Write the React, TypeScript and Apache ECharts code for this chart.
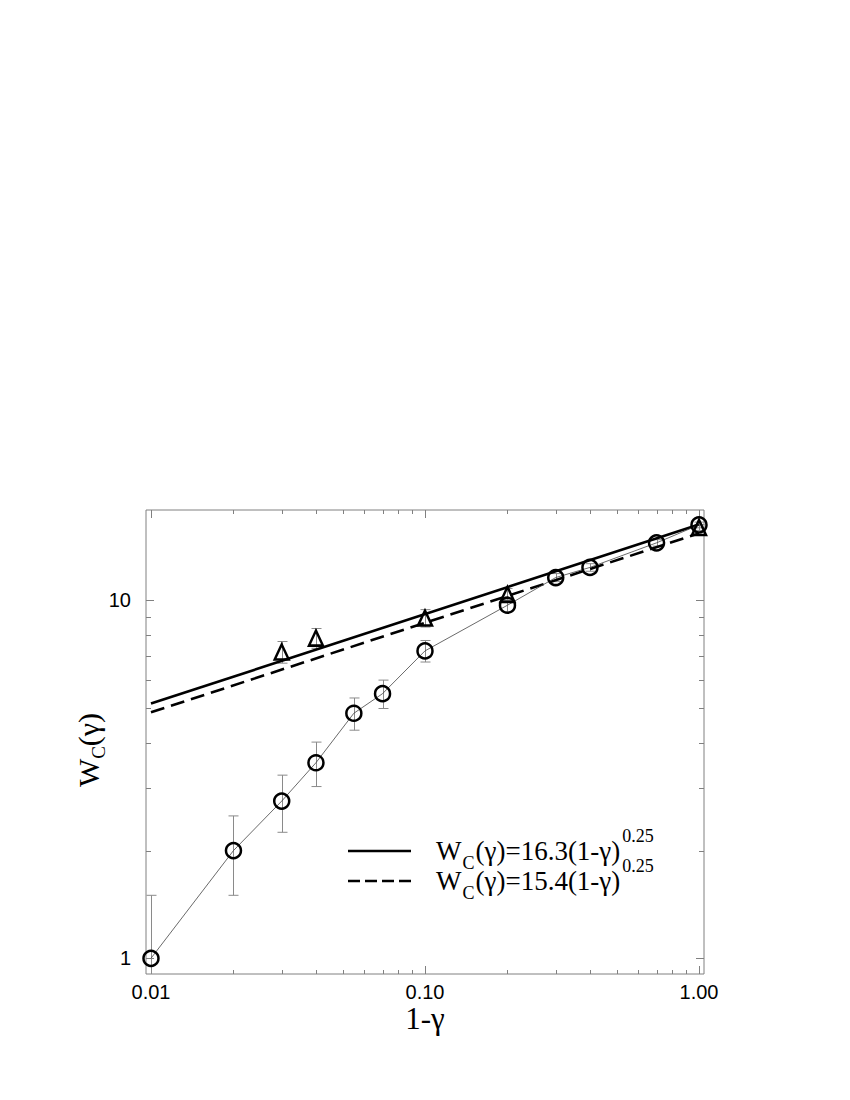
import React, { useEffect, useRef } from "react";
import * as echarts from "echarts";

// Circles (connected by thin line)
const circleX = [0.01, 0.02, 0.03, 0.04, 0.055, 0.07, 0.1, 0.2, 0.3, 0.4, 0.7, 1.0];
const circleY = [1.0, 2.0, 2.75, 3.52, 4.84, 5.49, 7.23, 9.7, 11.59, 12.37, 14.49, 16.26];
const circleErr = [0.5, 0.5, 0.5, 0.5, 0.5, 0.5, 0.5, 0.4, 0.3, 0.3, 0.3, 0.3];

// Triangles
const triX = [0.03, 0.04, 0.1, 0.2, 1.0];
const triY = [7.18, 7.85, 8.93, 10.4, 16.0];
const triErr = [0.5, 0.5, 0.5, 0.4, 0.3];

// Fit lines (endpoints at 1-γ = 0.01 and 1.00)
const fitX = [0.01, 1.0];
const fitSolid = [5.15, 16.3];
const fitDashed = [4.87, 15.4];

// Ticks
const xMajorTicks = [0.01, 0.1, 1.0];
const xMinorTicks = [0.02, 0.03, 0.04, 0.05, 0.06, 0.07, 0.08, 0.09, 0.2, 0.3, 0.4, 0.5, 0.6, 0.7, 0.8, 0.9];
const yMajorTicks = [1, 10];
const yMinorTicks = [2, 3, 4, 5, 6, 7, 8, 9];

// Legend
const legendMain = ["(γ)=16.3(1-γ)", "(γ)=15.4(1-γ)"];
const legendExp = "0.25";

const AX = "#808080";
const SERIF = "serif";
const SANS = "sans-serif";
const LEG_MAIN = 27;
const LEG_SMALL = 18;

function tickSeries(values: number[], dir: "x" | "y", len: number) {
  return {
    type: "custom",
    silent: true,
    z: 1,
    data: values.map((v) => (dir === "x" ? [v, 1] : [0.1, v])),
    renderItem: (params: any, api: any) => {
      const cs = params.coordSys;
      const p = api.coord([api.value(0), api.value(1)]);
      const st = { stroke: AX, lineWidth: 1 };
      if (dir === "x") {
        const x = Math.round(p[0]) + 0.5;
        const yb = cs.y + cs.height;
        return {
          type: "group",
          children: [
            { type: "line", shape: { x1: x, y1: yb, x2: x, y2: yb - len }, style: st },
            { type: "line", shape: { x1: x, y1: cs.y, x2: x, y2: cs.y + len }, style: st },
          ],
        };
      }
      const y = Math.round(p[1]) + 0.5;
      const xr = cs.x + cs.width;
      return {
        type: "group",
        children: [
          { type: "line", shape: { x1: cs.x, y1: y, x2: cs.x + len, y2: y }, style: st },
          { type: "line", shape: { x1: xr, y1: y, x2: xr - len, y2: y }, style: st },
        ],
      };
    },
  };
}

function errorSeries(xs: number[], ys: number[], es: number[]) {
  return {
    type: "custom",
    silent: true,
    z: 2,
    data: xs.map((x, i) => [x, ys[i], es[i]]),
    renderItem: (params: any, api: any) => {
      const cs = params.coordSys;
      const x = api.value(0);
      const y = api.value(1);
      const e = api.value(2);
      if (!e) return null;
      const t = api.coord([x, y + e]);
      const b = api.coord([x, y - e]);
      const px = Math.round(t[0]) + 0.5;
      const bottom = cs.y + cs.height;
      const yt = Math.max(t[1], cs.y);
      const yb = Math.min(b[1], bottom);
      const hw = 5;
      const st = { stroke: "#8a8a8a", lineWidth: 1 };
      const children: any[] = [
        { type: "line", shape: { x1: px, y1: yt, x2: px, y2: yb }, style: st },
      ];
      if (t[1] >= cs.y)
        children.push({ type: "line", shape: { x1: px - hw, y1: t[1], x2: px + hw, y2: t[1] }, style: st });
      if (b[1] <= bottom)
        children.push({ type: "line", shape: { x1: px - hw, y1: b[1], x2: px + hw, y2: b[1] }, style: st });
      return { type: "group", children };
    },
  };
}

function measure(text: string, size: number) {
  const c = document.createElement("canvas").getContext("2d");
  if (!c) return text.length * size * 0.5;
  c.font = `${size}px ${SERIF}`;
  return c.measureText(text).width;
}

function txt(x: number, y: number, text: string, size: number) {
  return {
    type: "text",
    x,
    y,
    style: {
      text,
      fontSize: size,
      fontFamily: SERIF,
      fill: "#000",
      lineHeight: size,
      verticalAlign: "middle",
      align: "left",
    },
  };
}

export default function App() {
  const ref = useRef<HTMLDivElement>(null);
  useEffect(() => {
    if (!ref.current) return;
    const chart = echarts.init(ref.current, undefined, { renderer: "svg" });
    const isPow = (v: number) => {
      const l = Math.log10(v);
      return Math.abs(l - Math.round(l)) < 1e-6;
    };
    const legX = 436;
    const legY = [851, 881];
    const legend: any[] = [
      {
        type: "line",
        shape: { x1: 348, y1: legY[0], x2: 411, y2: legY[0] },
        style: { stroke: "#000", lineWidth: 2.6 },
      },
      {
        type: "line",
        shape: { x1: 348, y1: legY[1], x2: 411, y2: legY[1] },
        style: { stroke: "#000", lineWidth: 2.6, lineDash: [12, 5] },
      },
    ];
    legendMain.forEach((t, i) => {
      const wW = measure("W", LEG_MAIN);
      const wC = measure("C", LEG_SMALL);
      const wT = measure(t, LEG_MAIN);
      legend.push(txt(legX, legY[i], "W", LEG_MAIN));
      legend.push(txt(legX + wW + 1, legY[i] + 12, "C", LEG_SMALL));
      legend.push(txt(legX + wW + wC + 2, legY[i], t, LEG_MAIN));
      legend.push(txt(legX + wW + wC + wT + 4, legY[i] - 15, legendExp, LEG_SMALL));
    });

    chart.setOption({
      animation: false,
      backgroundColor: "#fff",
      grid: {
        left: 146,
        right: 146,
        top: 510,
        bottom: 126,
        show: true,
        borderColor: AX,
        borderWidth: 1,
      },
      xAxis: {
        type: "log",
        logBase: 10,
        min: 0.00959,
        max: 1.043,
        axisLine: { show: false },
        axisTick: { show: false },
        splitLine: { show: false },
        axisLabel: {
          margin: 8,
          fontSize: 20,
          fontFamily: SANS,
          color: "#000",
          formatter: (v: number) => (isPow(v) ? v.toFixed(2) : ""),
        },
        name: "1-γ",
        nameLocation: "middle",
        nameGap: 23,
        nameTextStyle: { fontSize: 31, fontFamily: SERIF, color: "#000" },
      },
      yAxis: {
        type: "log",
        logBase: 10,
        min: 0.904,
        max: 17.9,
        axisLine: { show: false },
        axisTick: { show: false },
        splitLine: { show: false },
        axisLabel: {
          margin: 15,
          fontSize: 20,
          fontFamily: SANS,
          color: "#000",
          formatter: (v: number) => (isPow(v) ? String(Math.round(v)) : ""),
        },
      },
      series: [
        tickSeries(xMajorTicks, "x", 8),
        tickSeries(xMinorTicks, "x", 4),
        tickSeries(yMajorTicks, "y", 8),
        tickSeries(yMinorTicks, "y", 5),
        errorSeries(circleX, circleY, circleErr),
        errorSeries(triX, triY, triErr),
        {
          type: "line",
          z: 3,
          data: fitX.map((x, i) => [x, fitSolid[i]]),
          symbol: "none",
          lineStyle: { color: "#000", width: 2.6 },
        },
        {
          type: "line",
          z: 3,
          data: fitX.map((x, i) => [x, fitDashed[i]]),
          symbol: "none",
          lineStyle: { color: "#000", width: 2.6, type: [14, 7] },
        },
        {
          type: "line",
          z: 4,
          data: circleX.map((x, i) => [x, circleY[i]]),
          symbol: "circle",
          symbolSize: 15,
          itemStyle: { color: "rgba(0,0,0,0)", borderColor: "#000", borderWidth: 2.5 },
          lineStyle: { color: "#444", width: 0.8 },
        },
        {
          type: "scatter",
          z: 4,
          data: triX.map((x, i) => [x, triY[i]]),
          symbol: "triangle",
          symbolSize: [14, 15],
          itemStyle: { color: "rgba(0,0,0,0)", borderColor: "#000", borderWidth: 2.5, opacity: 1 },
        },
      ],
      graphic: [
        {
          type: "text",
          x: 88,
          y: 750,
          rotation: Math.PI / 2,
          style: {
            text: "{m|W}{s|C}{m|(γ)}",
            align: "center",
            verticalAlign: "middle",
            rich: {
              m: { fontSize: 30, fontFamily: SERIF, color: "#000", lineHeight: 40 },
              s: { fontSize: 19, fontFamily: SERIF, color: "#000", lineHeight: 19, verticalAlign: "bottom" },
            },
          },
        },
        ...legend,
      ],
    });
    return () => chart.dispose();
  }, []);
  return (
    <div
      ref={ref}
      style={{ position: "absolute", left: 0, top: 0, width: 850, height: 1100 }}
    />
  );
}
